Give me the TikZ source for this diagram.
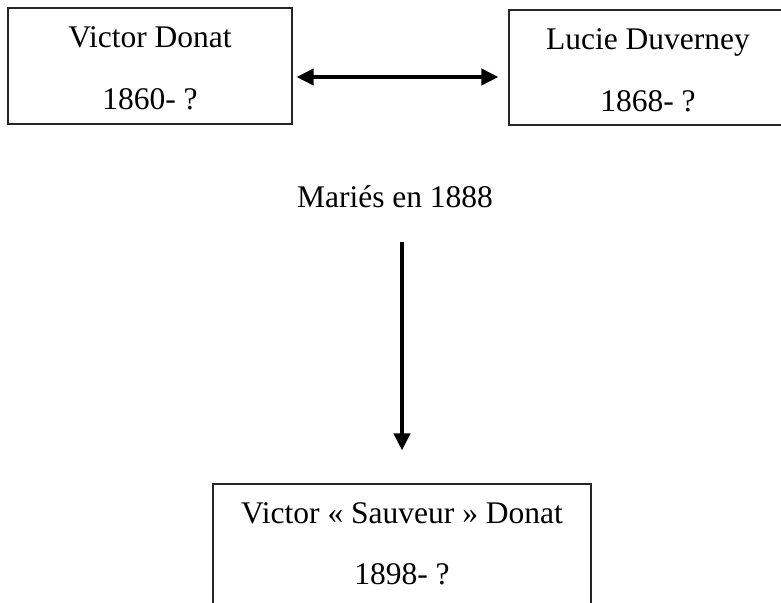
\documentclass[tikz,border=0pt]{standalone}
\usepackage{fontspec}
\setmainfont{Liberation Serif}
\usetikzlibrary{arrows.meta}
\tikzset{
  person/.style={draw=black!85, line width=1.1pt, rectangle, inner sep=0pt},
  txt/.style={anchor=base, inner sep=0pt, font=\fontsize{31.5}{62}\selectfont},
  conn/.style={line width=3.8pt, draw=black},
  tip/.tip={Triangle[length=17pt,width=16pt]}
}
\begin{document}
\begin{tikzpicture}[x=1pt,y=-1pt]
\useasboundingbox (0,0) rectangle (781,602);
\begin{scope}
\clip (0,0) rectangle (781,602);
% boxes
\node[person, minimum width=284pt, minimum height=116pt] (b1) at (150,66) {};
\node[person, minimum width=278pt, minimum height=115pt] (b2) at (648,67.5) {};
\node[person, minimum width=378pt, minimum height=130pt] (b3) at (402,549) {};
% texts
\node[txt] (b1a) at (150,47.5) {Victor Donat};
\node[txt] (b1b) at (150,109.5) {1860- ?};
\node[txt] (b2a) at (648,49.5) {Lucie Duverney};
\node[txt] (b2b) at (648,111.5) {1868- ?};
\node[txt] (b3a) at (402,523) {Victor «~Sauveur~» Donat};
\node[txt] (b3b) at (402,584) {1898- ?};
\node[txt] (mar) at (395,207) {Mariés en 1888};
% connectors
\draw[conn, tip-tip]
  ([shift={(4,11)}]b1.east) -- ([shift={(-10,9.5)}]b2.west);
\draw[conn, -tip]
  ([shift={(0,-241)}]b3.north) -- ([shift={(0,-33)}]b3.north);
\end{scope}
\end{tikzpicture}
\end{document}
